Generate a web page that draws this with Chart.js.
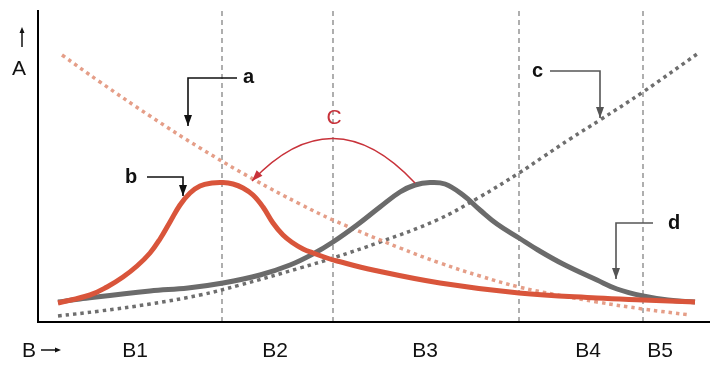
<!DOCTYPE html>
<html>
<head>
<script src="https://cdn.jsdelivr.net/npm/chart.js@4.4.0/dist/chart.umd.min.js"></script>
<style>
  body { margin: 0; background: #fff; }
  #wrap { width: 720px; height: 370px; }
</style>
</head>
<body>
<div id="wrap"><canvas id="myChart"></canvas></div>
<script>
// values in chart units (B across, A up)
var curveA = [[24,267],[62,240],[112,206],[162,174],[215,143],[262,118],[295,102],[362,74],[402,59],[442,46],[481,35],[520,27],[559,20],[605,13],[652,7]];
var curveC = [[20,6],[62,11],[112,18],[162,27],[202,37],[262,54],[295,64],[342,80],[399,102],[440,124],[481,149],[505,165],[532,183],[562,202],[605,230],[662,270]];
var redPeak = [[20,19],[52,27],[69,35],[85,45],[99,56],[112,69],[122,83],[132,100],[142,117],[152,129],[162,136],[174,139],[185,139.5],[195,138],[205,134],[215,127],[225,115],[235,99],[245,87],[255,79],[265,73],[275,69],[289,64],[299,61],[335,52],[402,39],[481,29],[559,24],[605,22],[657,20]];
var grayPeak = [[20,20],[42,23],[112,31],[150,34],[185,39],[222,47],[252,57],[275,68],[295,80],[319,97],[342,115],[362,130],[377,137],[392,139.5],[407,138],[425,127],[442,112],[459,98],[481,84],[500,72],[525,58],[559,42],[579,33],[605,26],[630,22],[657,20]];
var dividers = [184, 295, 481, 605];
var bLabels = ["B1", "B2", "B3", "B4", "B5"];
var bLabelPos = [97, 237, 387, 550, 622];

function pts(arr) {
  return arr.map(function(p) { return { x: p[0], y: p[1] }; });
}

var FONT = "'Liberation Sans', Arial, sans-serif";

var datasets = [];
dividers.forEach(function(v) {
  datasets.push({
    data: [{ x: v, y: 0 }, { x: v, y: 312 }],
    borderColor: "#7a7a7a",
    borderWidth: 1.2,
    borderDash: [5, 4],
    pointRadius: 0,
    order: 10
  });
});
datasets.push({
  label: "a", data: pts(curveA), borderColor: "#e59e88", borderWidth: 3.5,
  borderDash: [3.5, 4], pointRadius: 0, tension: 0.4, order: 5
});
datasets.push({
  label: "c", data: pts(curveC), borderColor: "#6e6e6e", borderWidth: 3.5,
  borderDash: [3.5, 4], pointRadius: 0, tension: 0.4, order: 5
});
datasets.push({
  label: "gray", data: pts(grayPeak), borderColor: "#6b6b6b", borderWidth: 5,
  pointRadius: 0, tension: 0.4, order: 2
});
datasets.push({
  label: "red", data: pts(redPeak), borderColor: "#d9553b", borderWidth: 5,
  pointRadius: 0, tension: 0.4, order: 1
});

function arrowHead(ctx, x, y, dx, dy, len, w, color) {
  var l = Math.sqrt(dx * dx + dy * dy);
  var ux = dx / l, uy = dy / l;
  ctx.fillStyle = color;
  ctx.beginPath();
  ctx.moveTo(x, y);
  ctx.lineTo(x - ux * len - uy * w / 2, y - uy * len + ux * w / 2);
  ctx.lineTo(x - ux * len + uy * w / 2, y - uy * len - ux * w / 2);
  ctx.closePath();
  ctx.fill();
}

var decor = {
  id: "decor",
  afterDatasetsDraw: function(chart) {
    var ctx = chart.ctx;
    var xs = chart.scales.x, ys = chart.scales.y;
    function X(v) { return xs.getPixelForValue(v); }
    function Y(v) { return ys.getPixelForValue(v); }
    ctx.save();

    // axes
    ctx.strokeStyle = "#000";
    ctx.lineWidth = 2;
    ctx.beginPath();
    ctx.moveTo(X(0), Y(312));
    ctx.lineTo(X(0), Y(0));
    ctx.lineTo(X(672), Y(0));
    ctx.stroke();

    // B labels
    ctx.fillStyle = "#111";
    ctx.font = "21px " + FONT;
    ctx.textAlign = "center";
    ctx.textBaseline = "middle";
    bLabels.forEach(function(t, i) { ctx.fillText(t, X(bLabelPos[i]), 351); });

    // axis names
    ctx.textAlign = "left";
    ctx.fillText("B", 22, 351);
    ctx.strokeStyle = "#111";
    ctx.lineWidth = 1.5;
    ctx.beginPath(); ctx.moveTo(41, 350); ctx.lineTo(57, 350); ctx.stroke();
    arrowHead(ctx, 61, 350, 1, 0, 6, 5, "#111");
    ctx.fillText("A", 12, 69);
    ctx.beginPath(); ctx.moveTo(22, 47); ctx.lineTo(22, 32); ctx.stroke();
    arrowHead(ctx, 22, 27, 0, -1, 6, 5, "#111");

    // callouts
    function callout(txt, tx, ty, path, color) {
      ctx.strokeStyle = color;
      ctx.lineWidth = 1.6;
      ctx.beginPath();
      ctx.moveTo(X(path[0][0]), Y(path[0][1]));
      for (var i = 1; i < path.length; i++) ctx.lineTo(X(path[i][0]), Y(path[i][1]));
      ctx.stroke();
      var n = path.length;
      var ex = X(path[n - 1][0]), ey = Y(path[n - 1][1]);
      arrowHead(ctx, ex, ey, ex - X(path[n - 2][0]), ey - Y(path[n - 2][1]), 11, 8, color);
      ctx.fillStyle = "#111";
      ctx.font = "bold 20px " + FONT;
      ctx.textAlign = "left";
      ctx.fillText(txt, X(tx), Y(ty));
    }
    callout("a", 205, 245, [[199,244],[150,244],[150,196]], "#111");
    callout("b", 87, 145, [[109,145],[145,145],[145,126]], "#111");
    callout("c", 494, 251, [[512,251],[562,251],[562,204]], "#555");
    callout("d", 630, 99, [[615,99],[578,99],[578,43]], "#555");

    // red C arc
    var red = "#c8323a";
    var sx = X(377), sy = Y(139), cx = X(295), cy = Y(227), exx = X(214), eyy = Y(141);
    ctx.strokeStyle = red;
    ctx.lineWidth = 1.5;
    ctx.beginPath();
    ctx.moveTo(sx, sy);
    ctx.quadraticCurveTo(cx, cy, exx, eyy);
    ctx.stroke();
    arrowHead(ctx, exx, eyy, exx - cx, eyy - cy, 11, 8, red);
    ctx.fillStyle = red;
    ctx.font = "21px " + FONT;
    ctx.textAlign = "center";
    ctx.fillText("C", X(296), Y(204));

    ctx.restore();
  }
};

new Chart(document.getElementById("myChart").getContext("2d"), {
  type: "line",
  data: { datasets: datasets },
  options: {
    responsive: true,
    maintainAspectRatio: false,
    animation: false,
    layout: { padding: { left: 38, top: 10, right: 10, bottom: 48 } },
    plugins: { legend: { display: false }, tooltip: { enabled: false } },
    scales: {
      x: { type: "linear", min: 0, max: 672, display: false },
      y: { type: "linear", min: 0, max: 312, display: false }
    }
  },
  plugins: [decor]
});
</script>
</body>
</html>
